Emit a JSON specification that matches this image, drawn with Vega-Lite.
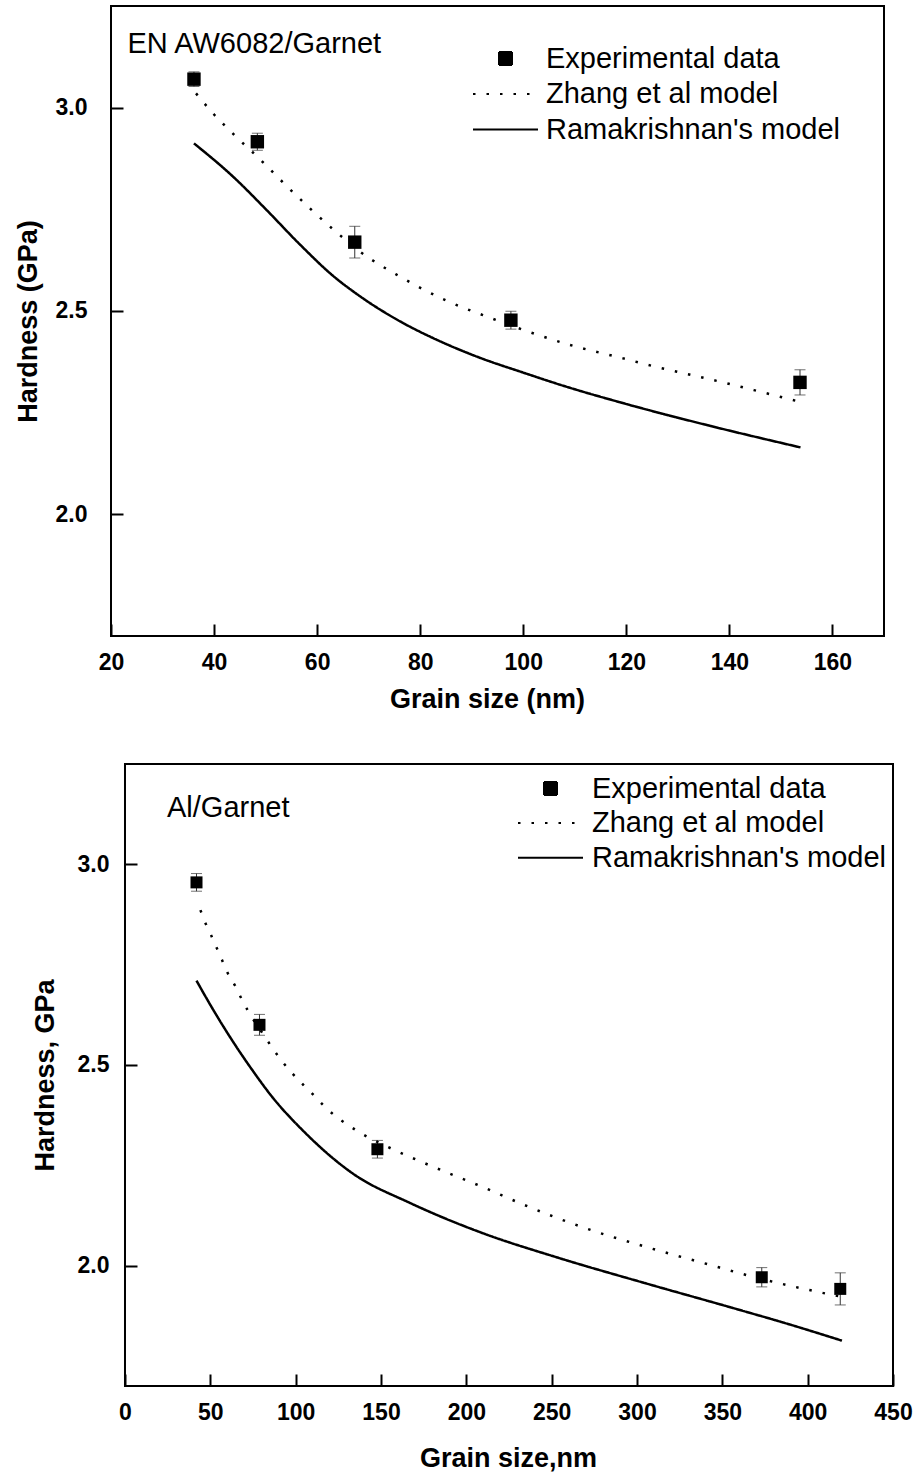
{
  "$schema": "https://vega.github.io/schema/vega-lite/v6.json",
  "background": "white",
  "padding": {"left": 13, "top": 5, "right": 5, "bottom": 5},
  "config": {
    "font": "Liberation Sans",
    "view": {"stroke": "black", "strokeWidth": 2},
    "axis": {
      "grid": false,
      "domain": false,
      "ticks": true,
      "tickColor": "black",
      "tickOpacity": 1,
      "tickWidth": 2,
      "tickSize": 12,
      "offset": -12,
      "labelFont": "Liberation Sans",
      "labelFontWeight": "bold",
      "labelFontSize": 23,
      "labelColor": "black",
      "labelFlush": false,
      "labelOverlap": false,
      "titleFont": "Liberation Sans",
      "titleFontSize": 27,
      "titleFontWeight": "bold",
      "titleColor": "black"
    }
  },
  "datasets": {
    "top_exp": [
      {"d": 36.1, "h": 3.070, "err": 0.018},
      {"d": 48.4, "h": 2.916, "err": 0.021},
      {"d": 67.3, "h": 2.669, "err": 0.039},
      {"d": 97.6, "h": 2.477, "err": 0.022},
      {"d": 153.7, "h": 2.324, "err": 0.031}
    ],
    "top_model": [
      {"model": "Zhang et al model", "d": 36.5, "h": 3.035},
      {"model": "Zhang et al model", "d": 40.0, "h": 2.983},
      {"model": "Zhang et al model", "d": 43.9, "h": 2.933},
      {"model": "Zhang et al model", "d": 48.9, "h": 2.873},
      {"model": "Zhang et al model", "d": 53.7, "h": 2.812},
      {"model": "Zhang et al model", "d": 58.6, "h": 2.752},
      {"model": "Zhang et al model", "d": 63.6, "h": 2.695},
      {"model": "Zhang et al model", "d": 68.3, "h": 2.646},
      {"model": "Zhang et al model", "d": 76.1, "h": 2.584},
      {"model": "Zhang et al model", "d": 85.1, "h": 2.525},
      {"model": "Zhang et al model", "d": 94.2, "h": 2.480},
      {"model": "Zhang et al model", "d": 100.7, "h": 2.450},
      {"model": "Zhang et al model", "d": 109.1, "h": 2.416},
      {"model": "Zhang et al model", "d": 119.4, "h": 2.383},
      {"model": "Zhang et al model", "d": 123.6, "h": 2.369},
      {"model": "Zhang et al model", "d": 138.4, "h": 2.325},
      {"model": "Zhang et al model", "d": 153.7, "h": 2.276},
      {"model": "Ramakrishnan's model", "d": 36.1, "h": 2.912},
      {"model": "Ramakrishnan's model", "d": 43.7, "h": 2.830},
      {"model": "Ramakrishnan's model", "d": 50.2, "h": 2.748},
      {"model": "Ramakrishnan's model", "d": 56.6, "h": 2.664},
      {"model": "Ramakrishnan's model", "d": 63.1, "h": 2.586},
      {"model": "Ramakrishnan's model", "d": 68.3, "h": 2.536},
      {"model": "Ramakrishnan's model", "d": 76.1, "h": 2.474},
      {"model": "Ramakrishnan's model", "d": 82.5, "h": 2.433},
      {"model": "Ramakrishnan's model", "d": 87.7, "h": 2.404},
      {"model": "Ramakrishnan's model", "d": 91.7, "h": 2.384},
      {"model": "Ramakrishnan's model", "d": 100.0, "h": 2.348},
      {"model": "Ramakrishnan's model", "d": 107.7, "h": 2.316},
      {"model": "Ramakrishnan's model", "d": 120.2, "h": 2.270},
      {"model": "Ramakrishnan's model", "d": 135.0, "h": 2.221},
      {"model": "Ramakrishnan's model", "d": 153.8, "h": 2.164}
    ],
    "top_label": [
      {"d": 23.2, "h": 3.134, "t": "EN AW6082/Garnet"}
    ],
    "bot_exp": [
      {"d": 41.9, "h": 2.955, "err": 0.022},
      {"d": 78.8, "h": 2.600, "err": 0.026},
      {"d": 147.9, "h": 2.290, "err": 0.022},
      {"d": 373.1, "h": 1.971, "err": 0.024},
      {"d": 419.1, "h": 1.942, "err": 0.040}
    ],
    "bot_model": [
      {"model": "Zhang et al model", "d": 44.2, "h": 2.886},
      {"model": "Zhang et al model", "d": 47.0, "h": 2.855},
      {"model": "Zhang et al model", "d": 50.4, "h": 2.824},
      {"model": "Zhang et al model", "d": 53.9, "h": 2.790},
      {"model": "Zhang et al model", "d": 56.8, "h": 2.762},
      {"model": "Zhang et al model", "d": 60.3, "h": 2.728},
      {"model": "Zhang et al model", "d": 64.6, "h": 2.697},
      {"model": "Zhang et al model", "d": 67.9, "h": 2.668},
      {"model": "Zhang et al model", "d": 71.8, "h": 2.637},
      {"model": "Zhang et al model", "d": 81.2, "h": 2.575},
      {"model": "Zhang et al model", "d": 86.1, "h": 2.544},
      {"model": "Zhang et al model", "d": 91.5, "h": 2.512},
      {"model": "Zhang et al model", "d": 97.4, "h": 2.482},
      {"model": "Zhang et al model", "d": 104.6, "h": 2.450},
      {"model": "Zhang et al model", "d": 111.5, "h": 2.421},
      {"model": "Zhang et al model", "d": 116.1, "h": 2.400},
      {"model": "Zhang et al model", "d": 136.7, "h": 2.334},
      {"model": "Zhang et al model", "d": 153.9, "h": 2.296},
      {"model": "Zhang et al model", "d": 177.9, "h": 2.251},
      {"model": "Zhang et al model", "d": 208.9, "h": 2.197},
      {"model": "Zhang et al model", "d": 236.3, "h": 2.147},
      {"model": "Zhang et al model", "d": 267.2, "h": 2.097},
      {"model": "Zhang et al model", "d": 305.0, "h": 2.047},
      {"model": "Zhang et al model", "d": 339.3, "h": 2.006},
      {"model": "Zhang et al model", "d": 373.6, "h": 1.966},
      {"model": "Zhang et al model", "d": 401.1, "h": 1.939},
      {"model": "Zhang et al model", "d": 419.0, "h": 1.923},
      {"model": "Ramakrishnan's model", "d": 41.9, "h": 2.710},
      {"model": "Ramakrishnan's model", "d": 51.9, "h": 2.636},
      {"model": "Ramakrishnan's model", "d": 63.6, "h": 2.556},
      {"model": "Ramakrishnan's model", "d": 75.3, "h": 2.483},
      {"model": "Ramakrishnan's model", "d": 85.2, "h": 2.426},
      {"model": "Ramakrishnan's model", "d": 105.8, "h": 2.330},
      {"model": "Ramakrishnan's model", "d": 133.3, "h": 2.230},
      {"model": "Ramakrishnan's model", "d": 167.6, "h": 2.155},
      {"model": "Ramakrishnan's model", "d": 208.9, "h": 2.082},
      {"model": "Ramakrishnan's model", "d": 253.5, "h": 2.020},
      {"model": "Ramakrishnan's model", "d": 305.0, "h": 1.956},
      {"model": "Ramakrishnan's model", "d": 356.5, "h": 1.894},
      {"model": "Ramakrishnan's model", "d": 387.4, "h": 1.856},
      {"model": "Ramakrishnan's model", "d": 420.1, "h": 1.813}
    ],
    "bot_label": [
      {"d": 24.6, "h": 3.117, "t": "Al/Garnet"}
    ],
    "bot_frame": [
      {"d": 0, "d2": 450, "h": 1.7, "h2": 3.25}
    ]
  },
  "columns": 1,
  "spacing": 50,
  "resolve": {"scale": {"strokeDash": "independent"}, "legend": {"strokeDash": "independent"}},
  "concat": [
    {
      "width": 773,
      "height": 630,
      "encoding": {
        "x": {"field": "d", "type": "quantitative",
          "scale": {"domain": [20, 170], "nice": false, "zero": false},
          "axis": {"title": "Grain size (nm)", "values": [20, 40, 60, 80, 100, 120, 140, 160], "labelPadding": 15, "titlePadding": 12, "titleX": 376}},
        "y": {"field": "h", "type": "quantitative",
          "scale": {"domain": [1.7, 3.25], "nice": false, "zero": false},
          "axis": {"title": "Hardness (GPa)", "values": [2.0, 2.5, 3.0], "format": ".1f", "labelPadding": 24, "titlePadding": 13}}
      },
      "layer": [
        {"data": {"name": "top_exp"},
         "mark": {"type": "errorbar", "ticks": {"size": 11, "thickness": 1, "color": "#333333"}, "rule": {"strokeWidth": 1, "color": "#333333"}},
         "encoding": {"yError": {"field": "err"}}},
        {"data": {"name": "top_exp"},
         "mark": {"type": "square", "size": 180, "color": "black", "opacity": 1}},
        {"data": {"name": "top_model"},
         "mark": {"type": "line", "color": "black", "strokeWidth": 2.5, "strokeCap": "butt", "interpolate": "monotone"},
         "encoding": {
           "strokeDash": {"field": "model", "type": "nominal",
             "scale": {"domain": ["Experimental data", "Zhang et al model", "Ramakrishnan's model"], "range": [[1, 0], [2.5, 11], [1, 0]]},
             "legend": {"title": null, "orient": "none", "legendX": 380, "legendY": 38, "padding": 0,
               "symbolSize": 169, "symbolStrokeColor": "black", "symbolStrokeWidth": 2,
               "labelFont": "Liberation Sans", "labelFontSize": 29, "labelColor": "black", "labelOffset": 26, "labelLimit": 600, "rowPadding": 5.5,
               "encode": {"symbols": {"update": {
                 "shape": [{"test": "datum.value === 'Experimental data'", "value": "square"}, {"value": "M-5,0H5"}],
                 "fill": [{"test": "datum.value === 'Experimental data'", "value": "black"}, {"value": "transparent"}],
                 "stroke": {"value": "black"},
                 "strokeWidth": {"value": 2},
                 "opacity": {"value": 1},
                 "strokeDash": [{"test": "datum.value === 'Zhang et al model'", "value": [2, 8]}, {"value": [1, 0]}]
               }}}}}
         }},
        {"data": {"name": "top_label"},
         "mark": {"type": "text", "align": "left", "baseline": "alphabetic", "fontSize": 29, "font": "Liberation Sans", "color": "black"},
         "encoding": {"text": {"field": "t", "type": "nominal"}}}
      ]
    },
    {
      "width": 782,
      "height": 622,
      "view": {"stroke": null},
      "encoding": {
        "x": {"field": "d", "type": "quantitative",
          "scale": {"domain": [-8.2, 450], "nice": false, "zero": false},
          "axis": {"title": "Grain size,nm", "values": [0, 50, 100, 150, 200, 250, 300, 350, 400, 450], "labelPadding": 15, "titlePadding": 21, "titleX": 397}},
        "y": {"field": "h", "type": "quantitative",
          "scale": {"domain": [1.7, 3.25], "nice": false, "zero": false},
          "axis": {"title": "Hardness, GPa", "values": [2.0, 2.5, 3.0], "format": ".1f", "offset": -26, "labelPadding": 16, "titlePadding": 18}}
      },
      "layer": [
        {"data": {"name": "bot_frame"},
         "mark": {"type": "rect", "filled": false, "color": "black", "strokeWidth": 2},
         "encoding": {"x2": {"field": "d2"}, "y2": {"field": "h2"}}},
        {"data": {"name": "bot_exp"},
         "mark": {"type": "errorbar", "ticks": {"size": 11, "thickness": 1, "color": "#333333"}, "rule": {"strokeWidth": 1, "color": "#333333"}},
         "encoding": {"yError": {"field": "err"}}},
        {"data": {"name": "bot_exp"},
         "mark": {"type": "square", "size": 144, "color": "black", "opacity": 1}},
        {"data": {"name": "bot_model"},
         "mark": {"type": "line", "color": "black", "strokeWidth": 2.5, "strokeCap": "butt", "interpolate": "monotone"},
         "encoding": {
           "strokeDash": {"field": "model", "type": "nominal",
             "scale": {"domain": ["Experimental data", "Zhang et al model", "Ramakrishnan's model"], "range": [[1, 0], [2.5, 11], [1, 0]]},
             "legend": {"title": null, "orient": "none", "legendX": 425, "legendY": 10, "padding": 0,
               "symbolSize": 169, "symbolStrokeColor": "black", "symbolStrokeWidth": 2,
               "labelFont": "Liberation Sans", "labelFontSize": 29, "labelColor": "black", "labelOffset": 27, "labelLimit": 600, "rowPadding": 4.6,
               "encode": {"symbols": {"update": {
                 "shape": [{"test": "datum.value === 'Experimental data'", "value": "square"}, {"value": "M-5,0H5"}],
                 "fill": [{"test": "datum.value === 'Experimental data'", "value": "black"}, {"value": "transparent"}],
                 "stroke": {"value": "black"},
                 "strokeWidth": {"value": 2},
                 "opacity": {"value": 1},
                 "strokeDash": [{"test": "datum.value === 'Zhang et al model'", "value": [2, 8]}, {"value": [1, 0]}]
               }}}}}
         }},
        {"data": {"name": "bot_label"},
         "mark": {"type": "text", "align": "left", "baseline": "alphabetic", "fontSize": 29, "font": "Liberation Sans", "color": "black"},
         "encoding": {"text": {"field": "t", "type": "nominal"}}}
      ]
    }
  ]
}
